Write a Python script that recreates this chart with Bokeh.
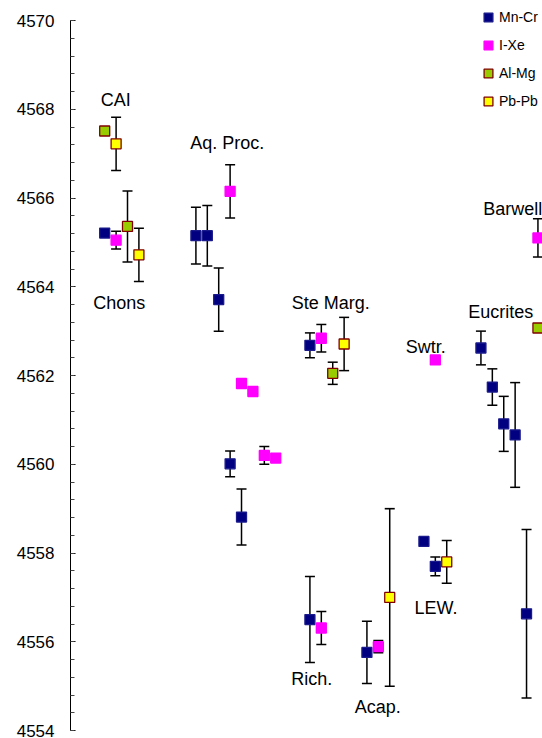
from bokeh.plotting import figure
from bokeh.models import (ColumnDataSource, Whisker, TeeHead, Legend, LegendItem,
                          Label, FixedTicker, Range1d)
from bokeh.embed import file_html
from bokeh.resources import INLINE

# ---------------- data ----------------
mncr_x = [3, 11, 12, 13, 14, 15, 21, 21, 26, 31, 32, 36, 37, 38, 39, 40]
mncr_y = [4565.21, 4565.15, 4565.15, 4563.71, 4560.01, 4558.81, 4562.68, 4556.50,
          4555.76, 4558.26, 4557.70, 4562.62, 4561.74, 4560.91, 4560.66, 4556.63]
mncr_e = [0.0, 0.64, 0.68, 0.71, 0.29, 0.63, 0.28, 0.97,
          0.70, 0.05, 0.21, 0.38, 0.41, 0.62, 1.18, 1.90]

ixe_x = [4, 14, 15, 16, 17, 18, 22, 22, 27, 32, 41]
ixe_y = [4565.05, 4566.15, 4561.82, 4561.64, 4560.20, 4560.14, 4562.84, 4556.31,
         4555.89, 4562.35, 4565.10]
ixe_e = [0.2, 0.6, 0.05, 0.05, 0.2, 0.05, 0.31, 0.37, 0.14, 0.05, 0.43]

almg_x = [3, 5, 23, 41]
almg_y = [4567.51, 4565.36, 4562.05, 4563.07]
almg_e = [0.05, 0.8, 0.25, 0.05]

pbpb_x = [4, 6, 24, 28, 33]
pbpb_y = [4567.22, 4564.72, 4562.71, 4557.00, 4557.80]
pbpb_e = [0.6, 0.6, 0.6, 2.0, 0.48]

series_names = ["Mn-Cr", "I-Xe", "Al-Mg", "Pb-Pb"]

group_labels = ["CAI", "Chons", "Aq. Proc.", "Ste Marg.", "Rich.", "Acap.",
                "Swtr.", "Eucrites", "Barwell", "LEW."]
group_label_x = [3.96, 4.27, 13.75, 22.82, 21.16, 26.95, 31.16, 37.74, 38.8, 32.06]
group_label_y = [4568.20, 4563.645, 4567.244, 4563.63, 4555.17, 4554.52,
                 4562.64, 4563.44, 4565.76, 4556.77]

y_ticks = [4554, 4556, 4558, 4560, 4562, 4564, 4566, 4568, 4570]
y_minor = [round(4554 + 0.4 * i, 1) for i in range(41)]

# ---------------- figure ----------------
FONT = "Liberation Sans"
PX_PER_UNIT = 44.375
Y_TOP = 4570 + 18 / PX_PER_UNIT   # headroom above the axis for the legend

p = figure(width=542, height=738, output_backend="svg", toolbar_location=None,
           x_axis_location=None, x_range=Range1d(0, 41.4),
           y_range=Range1d(4554, Y_TOP),
           min_border_left=70, min_border_right=0, min_border_top=2,
           min_border_bottom=8)
p.outline_line_color = None
p.grid.visible = False
p.background_fill_color = "white"
p.border_fill_color = "white"

ax = p.yaxis[0]
ax.bounds = (4554, 4570)
ax.ticker = FixedTicker(ticks=y_ticks, minor_ticks=y_minor)
ax.major_tick_in = 5
ax.major_tick_out = 0
ax.minor_tick_in = 4
ax.minor_tick_out = 0
ax.major_label_standoff = 16
ax.major_label_text_font = FONT
ax.major_label_text_font_size = "17px"
ax.major_label_text_color = "black"
ax.axis_line_color = "black"
ax.major_tick_line_color = "black"
ax.minor_tick_line_color = "#444444"


def add_series(xs, ys, es, fill, line):
    src = ColumnDataSource(dict(x=xs, y=ys,
                                upper=[y + e for y, e in zip(ys, es)],
                                lower=[y - e for y, e in zip(ys, es)]))
    w = Whisker(base="x", upper="upper", lower="lower", source=src,
                line_color="black", line_width=1.5,
                upper_head=TeeHead(size=10, line_color="black", line_width=1.5),
                lower_head=TeeHead(size=10, line_color="black", line_width=1.5),
                level="underlay")
    p.add_layout(w)
    r = p.scatter("x", "y", source=src, marker="square", size=10,
                  fill_color=fill, line_color=line, line_width=1.3)
    return r


r1 = add_series(mncr_x, mncr_y, mncr_e, "#000080", "#1a1a8c")
r2 = add_series(ixe_x, ixe_y, ixe_e, "#FF00FF", "#FF00FF")
r3 = add_series(almg_x, almg_y, almg_e, "#99CC00", "#800000")
r4 = add_series(pbpb_x, pbpb_y, pbpb_e, "#FFFF00", "#800000")

legend = Legend(items=[LegendItem(label=n, renderers=[r]) for n, r in
                       zip(series_names, [r1, r2, r3, r4])],
                location=(407, 618), orientation="vertical",
                border_line_color=None, background_fill_alpha=0,
                padding=0, margin=0, spacing=6,
                glyph_width=22, glyph_height=22, label_height=22,
                label_standoff=0, label_text_font=FONT,
                label_text_font_size="14px", label_text_color="black")
p.add_layout(legend)

for t, lx, ly in zip(group_labels, group_label_x, group_label_y):
    p.add_layout(Label(x=lx, y=ly, text=t, text_align="center",
                       text_baseline="alphabetic", text_font=FONT,
                       text_font_size="18px", text_color="black"))

open("out.html", "w").write(file_html(p, INLINE))
